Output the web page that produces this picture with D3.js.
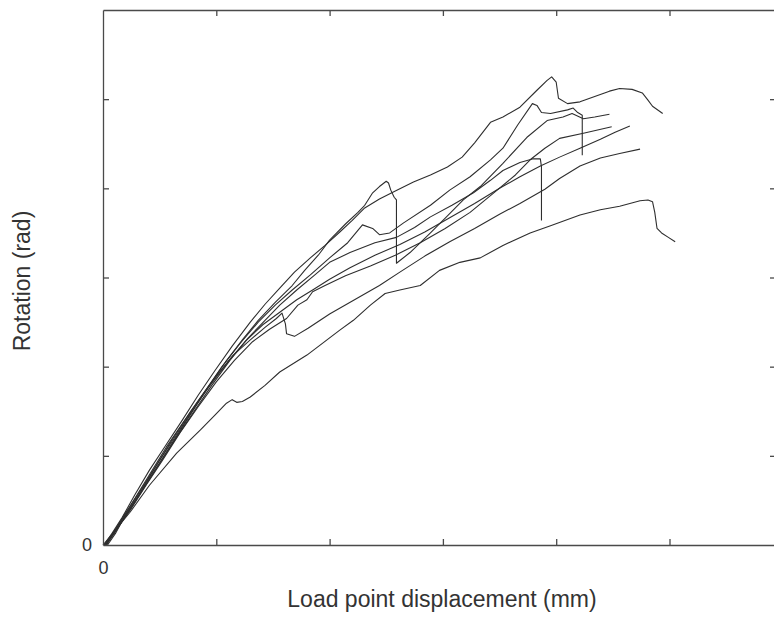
<!DOCTYPE html>
<html>
<head>
<meta charset="utf-8">
<script src="https://cdn.jsdelivr.net/npm/d3@7"></script>
<style>
  body { margin: 0; background: #fff; }
  svg { display: block; font-family: "Liberation Sans", Arial, sans-serif; }
  .axis path, .axis line { stroke: #4a4a4a; stroke-width: 1.3; }
  .axis text { fill: #333; font-size: 18px; }
  .curve { fill: none; stroke: #2e2e2e; stroke-width: 1.1; stroke-linejoin: round; }
  .label { fill: #333; font-size: 23px; }
</style>
</head>
<body>
<div class="chart"></div>
<script>
// Data: load point displacement (mm), rotation (rad).
const xTicks = [0, 10, 20, 30, 40, 50];
const yTicks = [0, 0.01, 0.02, 0.03, 0.04, 0.05];

const specimen1 = [[0.1,0],[0.8,0.0013],[1.7,0.0031],[2.8,0.0056],[4.1,0.0084],[5.5,0.0111],[7.0,0.0140],[8.4,0.0168],[9.9,0.0196],[11.4,0.0223],[13.0,0.0250],[14.3,0.0270],[15.6,0.0288],[16.9,0.0306],[18.3,0.0322],[19.6,0.0336],[20.9,0.0351],[22.0,0.0364],[23.1,0.0378],[24.4,0.0388],[25.8,0.0397],[27.4,0.0407],[28.9,0.0415],[30.4,0.0424],[31.7,0.0435],[32.8,0.0451],[34.2,0.0474],[35.3,0.0480],[36.8,0.0491],[38.3,0.0510],[39.2,0.0521],[39.6,0.0525],[40.0,0.0519],[40.2,0.0501],[41.0,0.0495],[42.1,0.0497],[43.4,0.0503],[44.7,0.0509],[45.6,0.0512],[46.7,0.0511],[47.6,0.0507],[48.1,0.0499],[48.5,0.0492],[49.4,0.0484]];

const specimen2 = [[0.4,0],[1.1,0.0013],[2.0,0.0034],[3.3,0.0059],[4.7,0.0089],[6.1,0.0118],[7.7,0.0149],[9.3,0.0178],[10.8,0.0205],[12.3,0.0230],[13.7,0.0252],[15.2,0.0272],[16.7,0.0291],[17.8,0.0308],[19.0,0.0325],[20.0,0.0342],[21.4,0.0360],[22.5,0.0373],[23.1,0.0381],[23.8,0.0395],[24.4,0.0402],[25.0,0.0408],[25.2,0.0406],[25.4,0.0398],[25.7,0.0390],[25.9,0.0387],[25.9,0.0316],[27.1,0.0328],[28.9,0.0350],[30.4,0.0369],[31.8,0.0387],[33.3,0.0402],[35.3,0.0428],[37.4,0.0457],[39.2,0.0476],[40.6,0.0480],[41.4,0.0484],[42.4,0.0478],[43.4,0.0480],[44.7,0.0483]];

const specimen3 = [[0.2,0],[1.0,0.0013],[1.9,0.0031],[3.2,0.0056],[4.6,0.0084],[6.0,0.0112],[7.5,0.0142],[9.0,0.0172],[10.5,0.0200],[12.1,0.0226],[13.7,0.0250],[15.2,0.0269],[16.7,0.0286],[18.3,0.0303],[20.0,0.0322],[21.6,0.0339],[22.9,0.0359],[23.8,0.0355],[24.4,0.0348],[25.3,0.0350],[26.5,0.0361],[28.9,0.0381],[30.6,0.0398],[32.4,0.0413],[34.2,0.0432],[35.3,0.0445],[36.6,0.0471],[37.9,0.0495],[38.3,0.0493],[38.7,0.0485],[39.5,0.0484],[41.0,0.0488],[41.5,0.0490],[41.9,0.0485],[42.3,0.0482],[42.3,0.0437]];

const specimen4 = [[0.3,0],[1.1,0.0016],[2.2,0.0036],[3.5,0.0062],[5.0,0.0092],[6.5,0.0121],[8.1,0.0151],[9.6,0.0179],[11.2,0.0207],[12.8,0.0232],[14.3,0.0252],[15.6,0.0269],[17.1,0.0286],[18.7,0.0303],[20.0,0.0317],[21.8,0.0328],[24.0,0.0339],[25.9,0.0345],[27.5,0.0356],[28.9,0.0368],[30.8,0.0381],[32.7,0.0395],[34.2,0.0409],[35.3,0.0420],[36.8,0.0429],[37.9,0.0433],[38.6,0.0433],[38.7,0.0424],[38.7,0.0364]];

const specimen5 = [[0.1,0],[0.9,0.0013],[1.9,0.0033],[3.0,0.0056],[4.3,0.0083],[5.6,0.0110],[7.1,0.0138],[8.6,0.0165],[10.1,0.0191],[11.5,0.0213],[13.0,0.0230],[14.3,0.0244],[15.3,0.0254],[15.8,0.0260],[16.1,0.0248],[16.2,0.0237],[16.9,0.0234],[18.1,0.0243],[20.0,0.0259],[22.2,0.0275],[24.4,0.0291],[26.2,0.0306],[28.4,0.0324],[30.6,0.0340],[32.8,0.0355],[35.0,0.0371],[36.8,0.0383],[39.0,0.0399],[40.3,0.0411],[42.1,0.0425],[43.9,0.0434],[45.6,0.0439],[47.4,0.0444]];

const specimen6 = [[0.2,0],[1.0,0.0015],[2.0,0.0036],[3.4,0.0063],[4.9,0.0093],[6.4,0.0122],[7.9,0.0151],[9.4,0.0178],[11.0,0.0205],[12.6,0.0229],[14.1,0.0247],[15.6,0.0261],[17.1,0.0275],[18.5,0.0286],[20.0,0.0298],[21.8,0.0311],[24.0,0.0325],[26.2,0.0337],[28.4,0.0351],[30.6,0.0367],[32.8,0.0383],[35.0,0.0400],[36.8,0.0413],[38.6,0.0425],[40.3,0.0435],[42.1,0.0445],[43.9,0.0455],[45.2,0.0463],[46.5,0.0470]];

const specimen7 = [[0.3,0],[1.2,0.0018],[2.4,0.0039],[3.8,0.0067],[5.3,0.0096],[6.8,0.0126],[8.4,0.0155],[10.0,0.0183],[11.6,0.0207],[13.2,0.0228],[14.7,0.0242],[16.2,0.0254],[17.2,0.0269],[18.0,0.0275],[18.5,0.0284],[19.6,0.0291],[21.4,0.0302],[23.6,0.0313],[25.8,0.0325],[28.0,0.0339],[30.2,0.0355],[32.4,0.0373],[34.6,0.0396],[36.4,0.0415],[37.7,0.0432],[39.0,0.0445],[40.3,0.0456],[42.5,0.0462],[44.9,0.0469]];

const specimen8 = [[0,0],[1.1,0.0017],[2.4,0.0037],[4.1,0.0067],[6.5,0.0103],[8.6,0.0129],[9.9,0.0146],[10.9,0.0159],[11.4,0.0163],[11.8,0.0160],[12.3,0.0161],[13.0,0.0166],[14.3,0.0179],[15.6,0.0194],[18.0,0.0213],[20.9,0.0241],[22.1,0.0252],[23.6,0.0269],[24.9,0.0282],[26.2,0.0286],[28.0,0.0291],[29.7,0.0308],[31.5,0.0317],[33.3,0.0322],[35.3,0.0336],[37.7,0.0350],[39.5,0.0358],[42.1,0.0370],[43.9,0.0376],[45.6,0.0380],[47.4,0.0386],[48.1,0.0387],[48.5,0.0385],[48.7,0.0373],[48.9,0.0355],[49.3,0.0350],[49.9,0.0345],[50.5,0.0340]];

const specimens = [specimen1, specimen2, specimen3, specimen4, specimen5, specimen6, specimen7, specimen8];

// Layout.
const W = 774, H = 619;
const margin = {top: 10, right: -2, bottom: 74, left: 103};
const width = W - margin.left - margin.right;
const height = H - margin.top - margin.bottom;

const svg = d3.select('.chart')
  .append('svg')
  .attr('width', W)
  .attr('height', H);

const g = svg.append('g')
  .attr('transform', `translate(${margin.left},${margin.top})`);

// Scales.
const xScale = d3.scaleLinear().domain([0, 59.4]).range([0, width]);
const yScale = d3.scaleLinear().domain([0, 0.06]).range([height, 0]);

// Curves.
const line = d3.line()
  .x(d => xScale(d[0]))
  .y(d => yScale(d[1]));

g.selectAll('.curve')
  .data(specimens)
  .enter()
  .append('path')
  .attr('class', 'curve')
  .attr('d', line);

// Axes (box with inward ticks, only the zeros labelled).
const zeroOnly = d => d === 0 ? '0' : '';

g.append('g')
  .attr('class', 'axis')
  .attr('transform', `translate(0,${height})`)
  .call(d3.axisBottom(xScale).tickValues(xTicks).tickFormat(zeroOnly)
    .tickSizeInner(-6).tickSizeOuter(0).tickPadding(16));

g.append('g')
  .attr('class', 'axis')
  .call(d3.axisLeft(yScale).tickValues(yTicks).tickFormat(zeroOnly)
    .tickSizeInner(-6).tickSizeOuter(0).tickPadding(11));

g.append('g')
  .attr('class', 'axis')
  .call(d3.axisTop(xScale).tickValues(xTicks).tickFormat('')
    .tickSizeInner(-6).tickSizeOuter(0));

g.append('g')
  .attr('class', 'axis')
  .attr('transform', `translate(${width},0)`)
  .call(d3.axisRight(yScale).tickValues(yTicks).tickFormat('')
    .tickSizeInner(-6).tickSizeOuter(0));

g.selectAll('.axis .tick')
  .filter(d => d === 0)
  .select('line')
  .remove();

// Axis titles.
svg.append('text')
  .attr('class', 'label')
  .attr('x', 442)
  .attr('y', 607)
  .attr('text-anchor', 'middle')
  .text('Load point displacement (mm)');

svg.append('text')
  .attr('class', 'label')
  .attr('transform', 'translate(30,281) rotate(-90)')
  .attr('text-anchor', 'middle')
  .text('Rotation (rad)');
</script>
</body>
</html>
